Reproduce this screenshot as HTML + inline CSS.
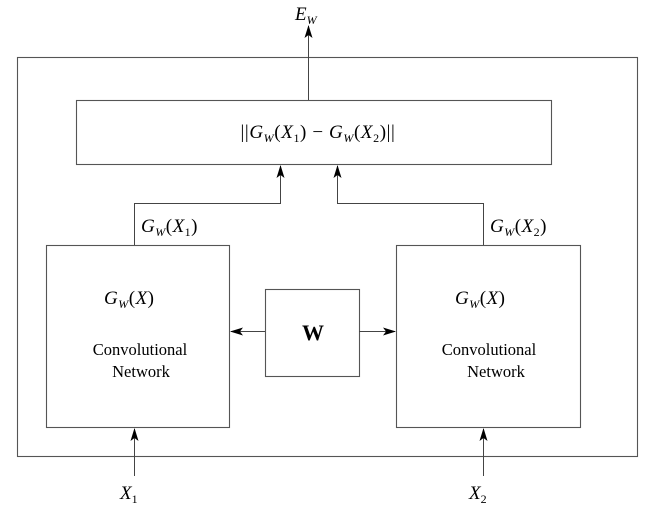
<!DOCTYPE html>
<html><head><meta charset="utf-8"><style>
html,body{margin:0;padding:0;background:#fff}
svg text{font-family:"Liberation Serif",serif;fill:#000}
.i{font-style:italic}
</style></head><body>
<svg width="655" height="517" viewBox="0 0 655 517" xmlns="http://www.w3.org/2000/svg">
<defs><marker id="a" markerWidth="14" markerHeight="10" refX="12" refY="5" orient="auto" markerUnits="userSpaceOnUse"><path d="M0,1 L13,5 L0,9 L3,5 Z" fill="#000"/></marker></defs>
<g fill="none" stroke="#555" stroke-width="1.1">
<rect x="17.5" y="57.5" width="620" height="399"/>
<rect x="76.5" y="100.5" width="475" height="64"/>
<rect x="46.5" y="245.5" width="183" height="182"/>
<rect x="396.5" y="245.5" width="184" height="182"/>
<rect x="265.5" y="289.5" width="94" height="87"/>
</g>
<g fill="none" stroke="#444" stroke-width="1">
<path d="M308.5 100 V26" marker-end="url(#a)"/>
<path d="M134.5 245 V203.5 H280.5 V166" marker-end="url(#a)"/>
<path d="M483.5 245 V203.5 H337.5 V166" marker-end="url(#a)"/>
<path d="M265 331.5 H231" marker-end="url(#a)"/>
<path d="M359 331.5 H395" marker-end="url(#a)"/>
<path d="M134.5 476 V429" marker-end="url(#a)"/>
<path d="M483.5 476 V429" marker-end="url(#a)"/>
</g>
<text x="295" y="20" font-size="19" class="i">E<tspan font-size="12" dy="4">W</tspan></text>
<text x="318" y="138" font-size="19" text-anchor="middle" letter-spacing="0.6">||<tspan class="i">G</tspan><tspan class="i" font-size="12" dy="4">W</tspan><tspan dy="-4">(</tspan><tspan class="i">X</tspan><tspan font-size="12" dy="4">1</tspan><tspan dy="-4">) − </tspan><tspan class="i">G</tspan><tspan class="i" font-size="12" dy="4">W</tspan><tspan dy="-4">(</tspan><tspan class="i">X</tspan><tspan font-size="12" dy="4">2</tspan><tspan dy="-4">)||</tspan></text>
<text x="141" y="232" font-size="19" letter-spacing="0.5"><tspan class="i">G</tspan><tspan class="i" font-size="12" dy="4">W</tspan><tspan dy="-4">(</tspan><tspan class="i">X</tspan><tspan font-size="12" dy="4">1</tspan><tspan dy="-4">)</tspan></text>
<text x="490" y="232" font-size="19" letter-spacing="0.5"><tspan class="i">G</tspan><tspan class="i" font-size="12" dy="4">W</tspan><tspan dy="-4">(</tspan><tspan class="i">X</tspan><tspan font-size="12" dy="4">2</tspan><tspan dy="-4">)</tspan></text>
<text x="104" y="304" font-size="19" letter-spacing="0.5"><tspan class="i">G</tspan><tspan class="i" font-size="12" dy="4">W</tspan><tspan dy="-4">(</tspan><tspan class="i">X</tspan>)</text>
<text x="455" y="304" font-size="19" letter-spacing="0.5"><tspan class="i">G</tspan><tspan class="i" font-size="12" dy="4">W</tspan><tspan dy="-4">(</tspan><tspan class="i">X</tspan>)</text>
<text x="140" y="355" font-size="16.5" text-anchor="middle">Convolutional</text>
<text x="141" y="377" font-size="16.5" text-anchor="middle">Network</text>
<text x="489" y="355" font-size="16.5" text-anchor="middle">Convolutional</text>
<text x="496" y="377" font-size="16.5" text-anchor="middle">Network</text>
<text x="313" y="340" font-size="22" font-weight="bold" text-anchor="middle">W</text>
<text x="120" y="499" font-size="19" class="i">X<tspan font-size="12" dy="4" font-style="normal">1</tspan></text>
<text x="469" y="499" font-size="19" class="i">X<tspan font-size="12" dy="4" font-style="normal">2</tspan></text>
</svg>
</body></html>
